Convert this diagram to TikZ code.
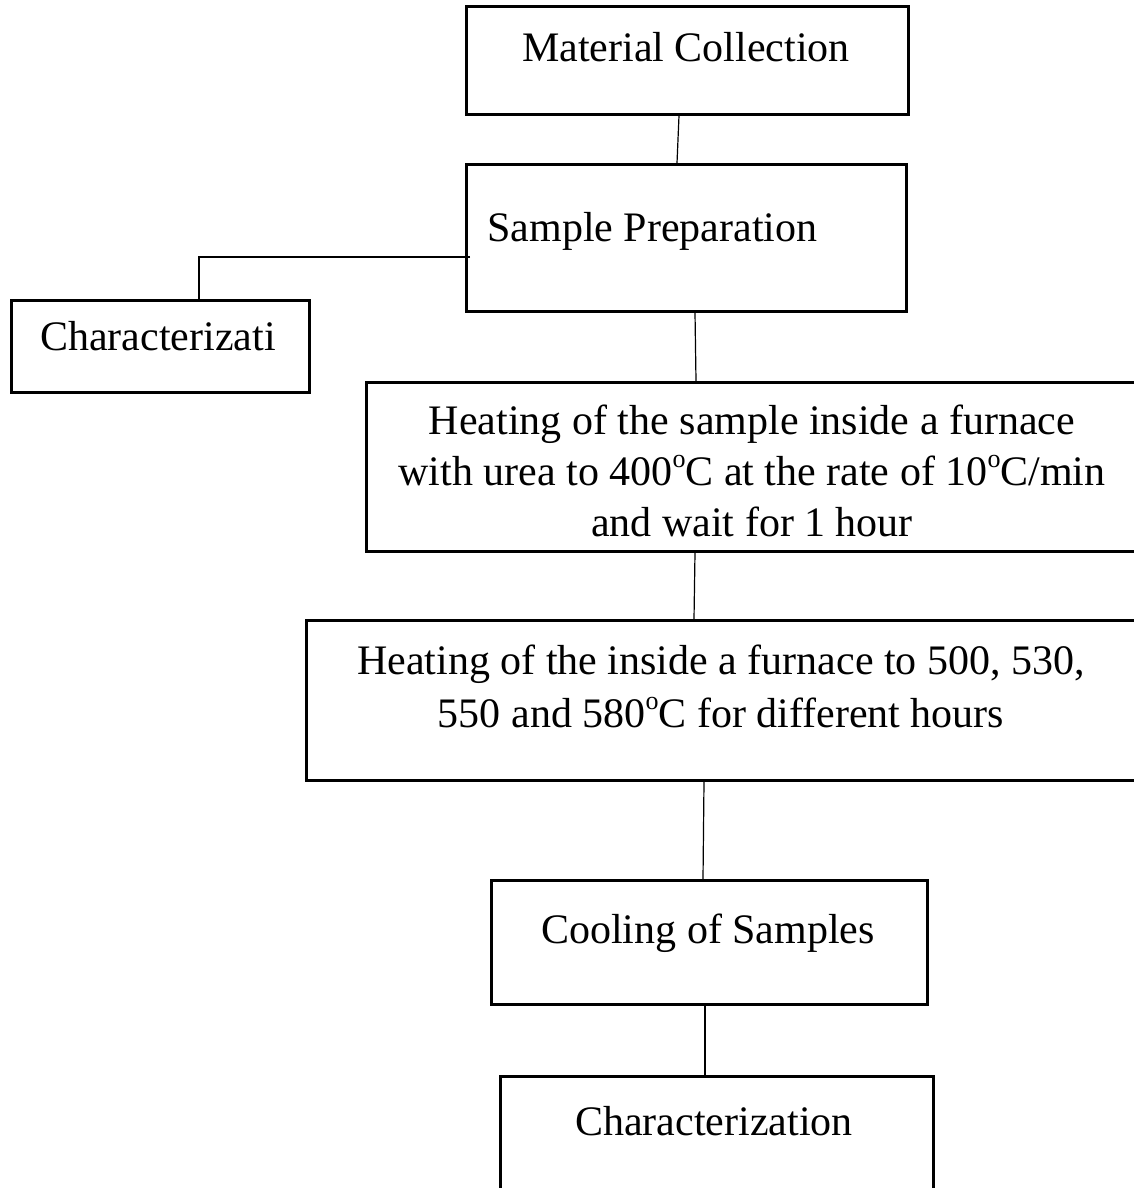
\documentclass[tikz,border=0pt]{standalone}
\usepackage{fontspec}
\setmainfont{Liberation Serif}
\usetikzlibrary{calc}
\newcommand{\degsup}{\raisebox{0.9ex}{\fontsize{13}{13}\selectfont o}}
\begin{document}
\begin{tikzpicture}[x=0.5pt,y=-0.5pt,
  boxnode/.style={draw=black,line width=1.3pt,rectangle,inner sep=0pt,anchor=north west},
  txt/.style={inner sep=0pt,font=\fontsize{21}{25.5}\selectfont},
  conn/.style={draw=black,line width=0.6pt}]
\useasboundingbox (0,0) rectangle (1134,1188);
\clip (0,0) rectangle (1134,1188);
% boxes
\node[boxnode,minimum width=221pt,minimum height=54pt] (mc) at (465,5) {};
\node[boxnode,minimum width=220pt,minimum height=73.5pt] (sp) at (465,163) {};
\node[boxnode,minimum width=149pt,minimum height=46pt] (ch1) at (10,299) {};
\node[boxnode,minimum width=400pt,minimum height=84.5pt] (h1) at (365,381) {};
\node[boxnode,minimum width=430pt,minimum height=80pt] (h2) at (305,619) {};
\node[boxnode,minimum width=218pt,minimum height=62pt] (cs) at (490,879) {};
\node[boxnode,minimum width=216.5pt,minimum height=80pt] (ch2) at (499,1075) {};
% texts
\node[txt,anchor=base] (tmc) at (686,62) {Material Collection};
\node[txt,anchor=base west] (tsp) at (487,241) {Sample Preparation};
\node[txt,anchor=base] (tch1) at (158,350) {Characterizati};
\node[txt,anchor=base,align=center] (th1) at (752,536) {Heating of the sample inside a furnace\\[0pt]with urea to 400\degsup C at the rate of 10\degsup C/min\\[0pt]and wait for 1 hour};
\node[txt,anchor=base,align=center] (th2) at (721,727) {Heating of the inside a furnace to 500, 530,\\[1pt]550 and 580\degsup C for different hours};
\node[txt,anchor=base] (tcs) at (708,943) {Cooling of Samples};
\node[txt,anchor=base] (tch2) at (714,1135) {Characterization};
% connectors
\draw[conn] ($(mc.south west)+(214,0)$) -- ($(sp.north west)+(212,0)$);
\draw[conn] ($(sp.north west)+(5,94)$) -| ($(ch1.north west)+(189,0)$);
\draw[conn] ($(sp.south west)+(230,0)$) -- ($(h1.north west)+(331,0)$);
\draw[conn] ($(h1.south west)+(330,0)$) -- ($(h2.north west)+(389,0)$);
\draw[conn] ($(h2.south west)+(399,0)$) -- ($(cs.north west)+(213,0)$);
\draw[conn] ($(cs.south west)+(215,0)$) -- ($(ch2.north west)+(206,0)$);
\end{tikzpicture}
\end{document}
